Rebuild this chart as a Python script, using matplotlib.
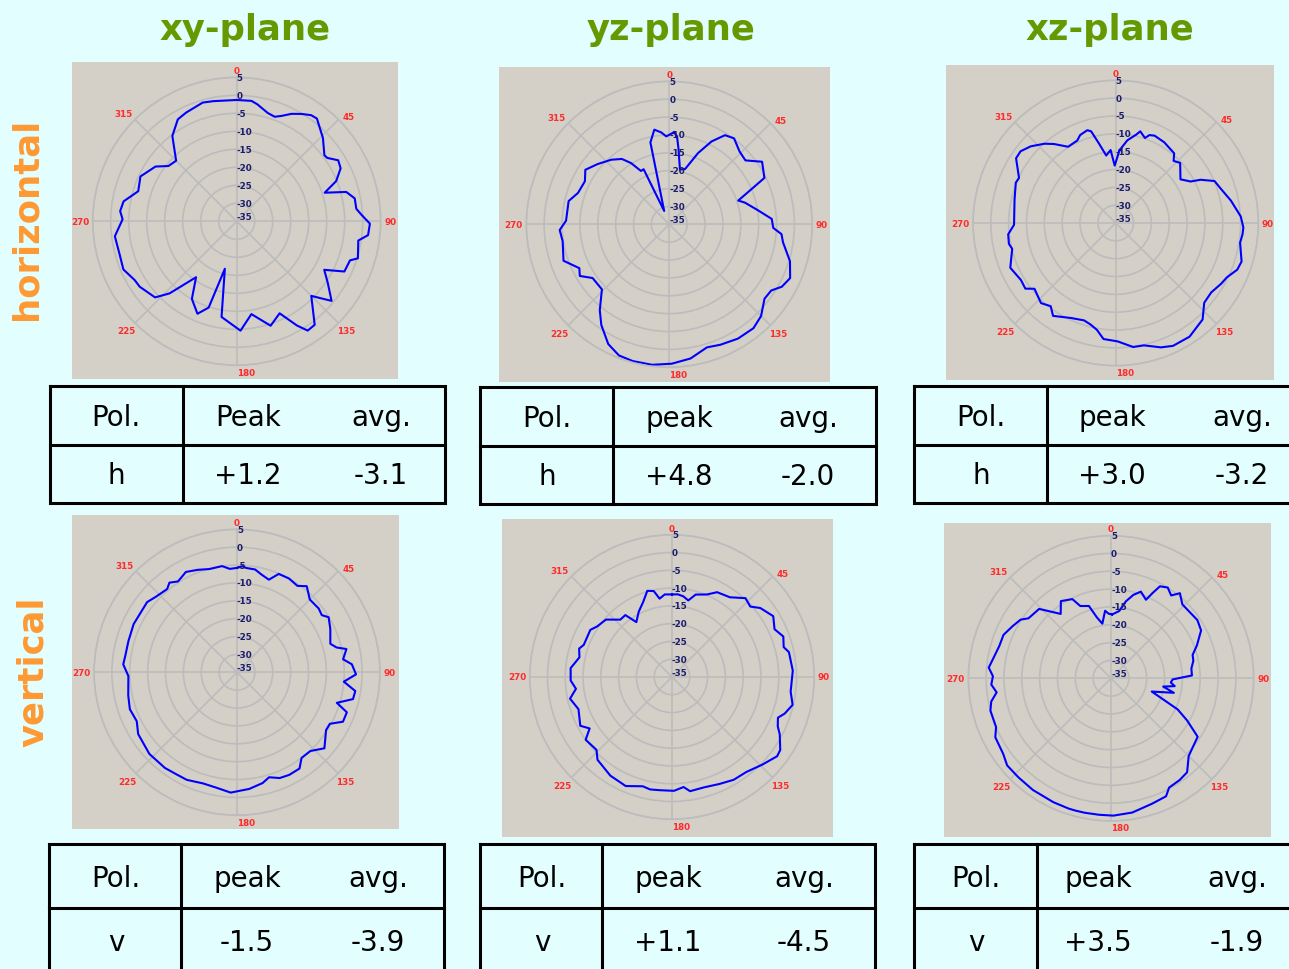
import numpy as np
import matplotlib.pyplot as plt
from matplotlib.patches import Rectangle

W, H = 1289, 970

# gain pattern values read off the picture : angle [deg] , level [dB]
# xy-plane, horizontal
xy_h_ang = [0, 7, 10, 16, 20, 23, 27, 31, 35, 38, 46, 53, 55, 59, 63, 68, 72, 75, 79, 84,
            87, 91, 96, 99, 107, 109, 115, 119, 124, 130, 135, 143, 147, 150, 155, 162, 171, 178, 189, 194,
            198, 203, 210, 216, 223, 227, 236, 240, 247, 254, 263, 271, 275, 280, 287, 295, 304, 309, 315, 323,
            330, 335, 344, 349]
xy_h_db = [-1.3, -1.3, -2.0, -3.7, -4.1, -3.2, -1.5, -0.2, 1.0, 1.2, -1.7, -4.5, -4.3, -2.1, -2.6, -5.2, -9.3, -3.5, -1.6, -1.6,
           -0.3, 2.0, 1.7, -0.8, 0.2, -1.7, -2.0, -7.2, -4.5, -0.6, -5.7, 1.0, 1.2, -1.6, -6.8, -4.5, -8.9, -4.6, -8.1, -21.4,
           -9.8, -7.1, -10.1, -15.8, -7.6, -4.0, -2.5, -2.3, -0.8, -1.2, -0.9, -3.3, -2.5, -3.1, -6.4, -5.5, -7.8, -10.6, -11.2, -5.3,
           -2.3, -1.7, -0.7, -1.0]

# yz-plane, horizontal
yz_h_ang = [3, 5, 7, 11, 16, 22, 27, 32, 37, 44, 50, 56, 64, 66, 71, 74, 81, 87, 92, 95,
            99, 107, 114, 119, 123, 128, 135, 141, 149, 157, 163, 171, 179, 187, 195, 201, 207, 214, 219, 226,
            235, 240, 244, 251, 261, 267, 272, 283, 289, 297, 303, 310, 318, 324, 328, 332, 335, 339, 347, 351,
            355, 358]
yz_h_db = [-9.2, -10.3, -13.8, -19.4, -18.9, -13.5, -9.0, -5.6, -4.9, -6.7, -7.2, -3.7, -5.4, -8.8, -14.6, -13.0, -9.9, -6.3, -5.9, -3.5,
           -2.8, 0.3, 2.0, 1.0, -1.0, -1.2, 1.3, 2.4, 2.3, 1.6, 1.0, 3.0, 4.0, 4.6, 4.6, 4.3, 2.6, -1.0, -4.1, -8.8,
           -8.8, -6.1, -7.0, -3.7, -4.8, -4.3, -6.1, -6.1, -8.0, -8.5, -7.0, -8.8, -10.7, -12.4, -14.8, -18.1, -18.0, -31.0, -11.5, -8.2,
           -9.2, -10.4]

# xz-plane, horizontal
xz_h_ang = [3, 8, 13, 15, 19, 21, 24, 31, 40, 43, 47, 56, 61, 63, 67, 72, 79, 87, 92, 95,
            99, 107, 111, 116, 120, 126, 132, 138, 147, 155, 160, 167, 172, 179, 186, 190, 194, 198, 205, 214,
            218, 223, 231, 234, 239, 247, 256, 259, 264, 269, 283, 292, 295, 303, 307, 312, 318, 322, 328, 335,
            338, 343, 345, 348, 352, 356, 359]
xz_h_db = [-14.6, -11.6, -9.6, -8.4, -9.8, -8.6, -8.2, -8.6, -9.5, -11.2, -10.3, -13.1, -11.0, -8.3, -4.9, -4.0, -2.1, 0.1, 0.8, 0.7,
           0.3, 1.9, 1.5, -0.3, -0.9, -1.9, -1.6, 1.4, 3.0, 3.0, 2.1, 0.2, 0.1, -1.8, -2.3, -4.6, -5.7, -6.3, -5.6, -3.6,
           -5.4, -4.3, -5.7, -3.7, -4.0, -2.9, -5.1, -4.5, -4.7, -6.5, -5.9, -4.8, -5.1, -1.7, -1.6, -2.9, -5.1, -6.9, -9.8, -9.5,
           -8.4, -7.8, -8.4, -12.1, -15.9, -14.5, -18.9]

# xy-plane, vertical
xy_v_ang = [0, 3, 5, 10, 14, 19, 23, 29, 35, 39, 45, 52, 56, 59, 65, 73, 76, 78, 83, 86,
            91, 95, 99, 103, 107, 110, 115, 119, 123, 131, 137, 143, 147, 153, 158, 163, 167, 174, 180, 183,
            190, 197, 205, 211, 217, 227, 238, 244, 251, 258, 268, 274, 278, 286, 295, 308, 313, 320, 323, 327,
            333, 339, 345, 352, 356]
xy_v_db = [-5.8, -5.3, -5.7, -5.8, -6.8, -7.6, -5.1, -5.0, -5.5, -4.0, -6.2, -6.0, -6.4, -5.1, -6.2, -7.7, -6.3, -3.7, -5.1, -2.8,
           -1.7, -5.0, -1.5, -1.7, -5.8, -2.3, -2.3, -5.3, -5.3, -2.6, -4.9, -5.0, -2.9, -2.8, -3.1, -4.3, -3.2, -2.2, -1.7, -1.3,
           -2.2, -2.5, -1.8, -1.8, -1.5, -1.5, -2.4, -3.8, -3.3, -3.9, -4.6, -3.1, -3.4, -3.4, -3.1, -3.1, -4.0, -4.6, -3.6, -4.7,
           -3.5, -4.3, -5.1, -5.0, -6.0]

# yz-plane, vertical
yz_v_ang = [0, 4, 8, 12, 16, 23, 28, 36, 43, 48, 52, 59, 65, 70, 75, 78, 87, 97, 103, 108,
            111, 115, 118, 124, 127, 134, 142, 149, 156, 164, 171, 174, 179, 186, 191, 195, 203, 212, 222, 226,
            234, 238, 242, 251, 258, 263, 268, 275, 282, 287, 290, 300, 304, 311, 318, 323, 327, 333, 339, 344,
            348, 351, 355]
yz_v_db = [-11.8, -11.7, -12.1, -13.0, -10.9, -9.8, -8.0, -7.3, -4.7, -5.4, -3.5, -1.8, -3.2, -1.7, -2.5, -1.4, -1.0, -1.4, -0.2, -1.7,
           -3.1, -2.2, -0.7, 1.7, 2.0, 0.4, -1.1, -1.3, -2.1, -2.7, -2.5, -3.9, -3.0, -3.0, -2.8, -3.2, -1.7, -2.3, -3.7, -5.5,
           -5.0, -7.7, -5.8, -7.2, -5.7, -7.8, -6.5, -6.4, -8.4, -7.7, -8.6, -8.5, -9.6, -10.4, -13.3, -13.2, -16.6, -14.4, -12.4, -9.8,
           -10.3, -12.7, -11.7]

# xz-plane, vertical
xz_v_ang = [1, 7, 11, 15, 19, 24, 26, 28, 32, 36, 39, 44, 49, 56, 62, 69, 74, 78, 83, 88,
            91, 94, 97, 99, 103, 108, 115, 119, 124, 135, 141, 146, 152, 155, 162, 171, 179, 185, 191, 195,
            198, 205, 215, 223, 230, 235, 243, 247, 255, 259, 263, 267, 271, 275, 280, 286, 292, 298, 303, 306,
            314, 322, 327, 334, 337, 343, 347, 351, 355, 358]
xz_v_db = [-17.1, -16.0, -13.0, -10.8, -9.3, -10.9, -8.4, -5.8, -5.0, -6.3, -4.3, -6.2, -6.2, -5.8, -6.4, -9.2, -11.2, -11.4, -12.3, -12.3,
           -17.7, -18.2, -17.0, -20.2, -16.9, -23.0, -14.4, -10.6, -5.7, -4.2, -1.1, -0.6, -0.3, 1.5, 2.0, 3.1, 3.5, 3.4, 3.4, 3.4,
           3.4, 3.3, 3.2, 3.0, 3.0, 1.9, 1.4, 0.0, 0.0, -0.8, -2.7, -1.4, -1.9, -0.6, -1.6, -2.4, -2.5, -3.8, -4.8, -6.4,
           -7.0, -12.1, -9.2, -10.3, -13.0, -13.8, -17.5, -19.5, -16.0, -16.9]

patterns = [(xy_h_ang, xy_h_db), (yz_h_ang, yz_h_db), (xz_h_ang, xz_h_db),
            (xy_v_ang, xy_v_db), (yz_v_ang, yz_v_db), (xz_v_ang, xz_v_db)]

plane_names = ['xy-plane', 'yz-plane', 'xz-plane']
pol_names = ['horizontal', 'vertical']
pol_short = ['h', 'h', 'h', 'v', 'v', 'v']
peak_head = ['Peak', 'peak', 'peak', 'peak', 'peak', 'peak']
peak_vals = ['+1.2', '+4.8', '+3.0', '-1.5', '+1.1', '+3.5']
avg_vals = ['-3.1', '-2.0', '-3.2', '-3.9', '-4.5', '-1.9']
r_ticks = [5, 0, -5, -10, -15, -20, -25, -30, -35]
ang_ticks = [0, 45, 90, 135, 180, 225, 270, 315]

# layout in pixels
boxes = [(72, 63, 398, 380), (499, 68, 830, 383), (946, 66, 1274, 381),
         (72, 516, 399, 830), (502, 520, 833, 838), (944, 524, 1271, 838)]
centers = [(236.7, 222.3, 144), (669.3, 225.3, 143), (1115.7, 224, 142.7),
           (237, 673.3, 143), (672, 678, 142.3), (1111, 679.3, 142.7)]
# left, right, top, bottom, column divider, row divider
tables = [(50, 445, 387, 504, 183, 446), (480, 876, 388, 505, 613, 447), (914, 1295, 387, 504, 1047, 446),
          (49, 444, 845, 980, 181, 909), (480, 875, 845, 980, 602, 909), (914, 1295, 845, 980, 1037, 909)]
table_x = [(116, 248, 381), (547, 679, 808), (981, 1112, 1242),
           (116, 247, 378), (542, 668, 804), (976, 1098, 1237)]
table_y = [(418, 476), (419, 477), (418, 476), (879, 943), (879, 943), (879, 943)]
lab_off = {0: (0, 6.6), 45: (10.5, 2.5), 90: (9.5, 0), 135: (7.5, -7.6),
           180: (9, -7), 225: (-9, -7.6), 270: (-12.7, 0), 315: (-11.6, 5.5)}

BG = '#e2fefe'
BOX = '#d4d0c8'
GRID = '#bcbcbc'

fig = plt.figure(figsize=(W / 100, H / 100), dpi=100, facecolor=BG)

# overlay in pixel coordinates for boxes, titles, tables
ov = fig.add_axes([0, 0, 1, 1])
ov.set_xlim(0, W)
ov.set_ylim(H, 0)
ov.axis('off')

for (x0, y0, x1, y1) in boxes:
    ov.add_patch(Rectangle((x0, y0), x1 - x0, y1 - y0, facecolor=BOX, edgecolor='none'))

title_x = [245, 671, 1110]
for name, tx in zip(plane_names, title_x):
    ov.text(tx, 40, name, color='#669900', fontsize=25.5, fontweight='bold',
            ha='center', va='baseline')

ov.text(27, 219, pol_names[0], color='#ff9933', fontsize=25.5, fontweight='bold',
        rotation=90, ha='center', va='center')
ov.text(33, 672, pol_names[1], color='#ff9933', fontsize=25.5, fontweight='bold',
        rotation=90, ha='center', va='center')

# tables
for i, (l, r, t, b, vx, hy) in enumerate(tables):
    lw = 2.2
    ov.plot([l, r, r, l, l], [t, t, b, b, t], color='black', lw=lw, solid_joinstyle='miter')
    ov.plot([vx, vx], [t, b], color='black', lw=lw)
    ov.plot([l, r], [hy, hy], color='black', lw=lw)
    px, kx, ax_ = table_x[i]
    y1, y2 = table_y[i]
    for x, s in zip([px, kx, ax_], ['Pol.', peak_head[i], 'avg.']):
        ov.text(x, y1, s, fontsize=20, ha='center', va='center', color='black')
    for x, s in zip([px, kx, ax_], [pol_short[i], peak_vals[i], avg_vals[i]]):
        ov.text(x, y2, s, fontsize=20, ha='center', va='center', color='black')

# polar patterns
for i, (ang, db) in enumerate(patterns):
    cx, cy, R = centers[i]
    ax = fig.add_axes([(cx - R) / W, 1 - (cy + R) / H, 2 * R / W, 2 * R / H], projection='polar')
    ax.set_facecolor('none')
    ax.set_theta_zero_location('N')
    ax.set_theta_direction(-1)
    ax.set_ylim(-35, 5)
    ax.set_yticks([v for v in r_ticks if v > -35])
    ax.set_yticklabels([])
    ax.set_xticks(np.deg2rad(ang_ticks))
    ax.set_xticklabels([])
    ax.tick_params(length=0)
    ax.grid(True, color=GRID, lw=1.2)
    ax.spines['polar'].set_color(GRID)
    ax.spines['polar'].set_linewidth(1.2)

    th = np.deg2rad(np.append(ang, ang[0]))
    rr = np.append(db, db[0])
    ax.plot(th, rr, color='#0000ff', lw=1.5)

    for v in r_ticks:
        ax.text(0, v, str(v), color='#1c1c6c', fontsize=6.3, fontweight='bold',
                ha='left', va='bottom' if v == -35 else 'center', clip_on=False)
    for a in ang_ticks:
        dx, dy = lab_off[a]
        ax.annotate(str(a), xy=(np.deg2rad(a), 5), xytext=(dx * 0.72, dy * 0.72),
                    textcoords='offset points', ha='center', va='center',
                    color='#ff2a2a', fontsize=6.3, fontweight='bold', annotation_clip=False)

fig.savefig('out.png', dpi=100, facecolor=BG)
